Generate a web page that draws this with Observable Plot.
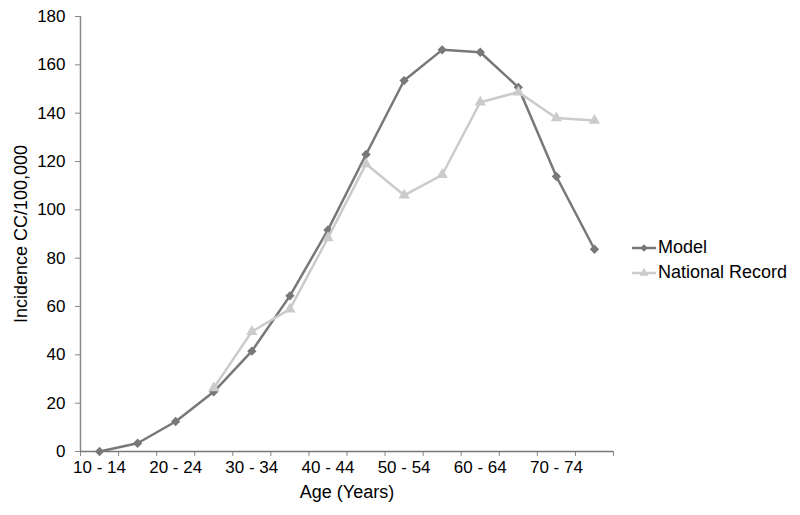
<!DOCTYPE html>
<html><head><meta charset="utf-8">
<script src="https://cdn.jsdelivr.net/npm/d3@7"></script>
<script src="https://cdn.jsdelivr.net/npm/@observablehq/plot@0.6"></script>
<style>
body{margin:0;background:#fff;font-family:"Liberation Sans",Arial,sans-serif;}
#wrap{position:relative;width:800px;height:515px;overflow:hidden;}
.legend{position:absolute;left:632px;top:235px;font-size:18px;color:#000;line-height:25px;}
.legend div{display:flex;align-items:center;height:25px;}
.legend svg{margin-right:2px;}
g[aria-label="y-axis label"], g[aria-label="x-axis label"]{font-size:18px;}
g[aria-label="y-axis label"] text, g[aria-label="x-axis label"] text{font-size:18px;}
</style></head><body><div id="wrap"></div>
<script>
const ageGroups = ["10 - 14","15 - 19","20 - 24","25 - 29","30 - 34","35 - 39","40 - 44","45 - 49","50 - 54","55 - 59","60 - 64","65 - 69","70 - 74","75 - 79"];
const modelValues = [0, 3.4, 12.4, 24.7, 41.5, 64.4, 91.7, 122.9, 153.5, 166.2, 165.2, 150.7, 113.8, 83.7];
const nationalValues = [null, null, null, 26.3, 49.6, 58.9, 88.4, 119, 106, 114.5, 144.5, 148.7, 138, 137];
const yTicks = [0, 20, 40, 60, 80, 100, 120, 140, 160, 180];
const labelIndices = [0, 2, 4, 6, 8, 10, 12];
const seriesNames = ["Model", "National Record"];
const seriesColors = ["#787878", "#cbcbcb"];

const modelRows = ageGroups.map((age, i) => ({i, age, value: modelValues[i]}));
const nationalRows = ageGroups.map((age, i) => ({i, age, value: nationalValues[i]})).filter(d => d.value != null);
const boundaries = d3.range(ageGroups.length + 1).map(k => k - 0.5);

const chart = Plot.plot({
  width: 800, height: 515,
  marginLeft: 80, marginRight: 187, marginTop: 16, marginBottom: 64,
  style: {fontFamily: "'Liberation Sans', Arial, sans-serif", fontSize: "17px", color: "#000", background: "#fff"},
  x: {type: "linear", domain: [-0.5, ageGroups.length - 0.5]},
  y: {domain: [0, 180]},
  marks: [
    Plot.axisY({ticks: yTicks, tickSize: 5, tickPadding: 10, stroke: "#888", label: "Incidence CC/100,000", labelAnchor: "center", labelArrow: false, labelOffset: 66, fontSize: 17}),
    Plot.axisX({ticks: boundaries, tickSize: 5, stroke: "#888", tickFormat: () => "", label: null}),
    Plot.axisX({ticks: labelIndices, tickSize: 0, tickPadding: 9, tickFormat: i => ageGroups[i], label: "Age (Years)", labelAnchor: "center", labelArrow: false, labelOffset: 46, fontSize: 17}),
    Plot.ruleX([-0.5], {y1: 0, y2: 180, stroke: "#888", strokeWidth: 1.5}),
    Plot.ruleY([0], {stroke: "#777", strokeWidth: 1.5}),
    Plot.line(modelRows, {x: "i", y: "value", stroke: seriesColors[0], strokeWidth: 2.5}),
    Plot.dot(modelRows, {x: "i", y: "value", symbol: "diamond2", fill: seriesColors[0], r: 4.2}),
    Plot.line(nationalRows, {x: "i", y: "value", stroke: seriesColors[1], strokeWidth: 2.5}),
    Plot.dot(nationalRows, {x: "i", y: "value", symbol: "triangle", fill: seriesColors[1], r: 4.2})
  ]
});
const wrap = document.getElementById("wrap");
wrap.appendChild(chart);

const legend = document.createElement("div");
legend.className = "legend";
const symbols = [d3.symbolDiamond2, d3.symbolTriangle];
seriesNames.forEach((name, k) => {
  const row = document.createElement("div");
  const path = d3.symbol(symbols[k], 36)();
  row.innerHTML = `<svg width="24" height="12" viewBox="0 0 24 12"><line x1="0" x2="24" y1="6" y2="6" stroke="${seriesColors[k]}" stroke-width="2.5"/><path transform="translate(12,6)" d="${path}" fill="${seriesColors[k]}"/></svg><span>${name}</span>`;
  legend.appendChild(row);
});
wrap.appendChild(legend);
</script>
</body></html>
